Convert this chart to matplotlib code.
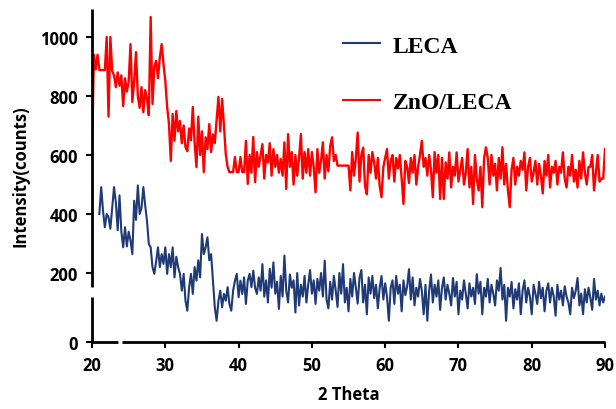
import numpy as np
import matplotlib
matplotlib.use("Agg")
import matplotlib.pyplot as plt

# scan grid: 0.25 deg steps in 2-theta
STEP = 0.25
ZNO_START = 20.0
LECA_START = 21.0

# ZnO/LECA intensity (counts), one row per degree from 20 to 90
zno_leca = [
    600, 940, 890, 940,   888, 888, 888, 888,   1000, 730, 1000, 885,
    870, 830, 880, 835,   870, 766, 860, 815,   850, 976, 780, 850,
    949, 800, 760, 830,   745, 820, 790, 735,   1068, 773, 900, 919,
    861, 930, 976, 908,   851, 763, 705, 580,   739, 648, 749, 680,
    715, 640, 700, 627,   613, 690, 650, 763,   640, 559, 730, 600,
    680, 542, 660, 620,   705, 610, 670, 640,   720, 797, 680, 790,
    700, 603, 559, 542,   542, 542, 593, 542,   542, 593, 542, 542,
    648, 502, 600, 540,   661, 508, 610, 560,   600, 637, 520, 600,
    575, 640, 530, 620,   560, 600, 540, 586,   530, 643, 485, 671,
    560, 610, 500, 600,   530, 590, 671, 520,   610, 540, 620, 530,
    610, 560, 474, 620,   540, 580, 643, 520,   600, 545, 630, 660,
    580, 600, 564, 564,   564, 564, 564, 564,   564, 480, 610, 530,
    590, 676, 510, 600,   625, 495, 467, 600,   540, 610, 575, 520,
    590, 495, 457, 560,   590, 620, 520, 580,   600, 510, 590, 555,
    600, 520, 434, 580,   560, 505, 590, 540,   600, 500, 560, 600,
    648, 560, 590, 530,   600, 550, 457, 610,   540, 600, 451, 590,
    451, 575, 520, 609,   490, 560, 530, 609,   510, 550, 590, 500,
    540, 620, 490, 560,   434, 600, 520, 480,   560, 423, 590, 626,
    590, 500, 600, 530,   570, 480, 590, 520,   626, 500, 570, 480,
    423, 550, 590, 500,   560, 530, 580, 550,   609, 480, 560, 590,
    510, 540, 580, 500,   570, 530, 470, 580,   530, 600, 490, 560,
    540, 580, 500, 560,   540, 609, 520, 490,   560, 530, 600, 510,
    550, 490, 580, 520,   609, 540, 500, 560,   560, 600, 480, 540,
    600, 510, 520, 520,
    620,
]

# LECA intensity (counts), one row per degree from 21 to 90
leca = [
    400, 491, 410, 355,   400, 390, 350, 420,   491, 440, 345, 463,
    340, 287, 355, 290,   340, 310, 264, 445,   380, 497, 400, 420,
    491, 430, 377, 298,   287, 220, 197, 240,   287, 220, 264, 231,
    287, 197, 264, 220,   287, 185, 255, 220,   197, 140, 197, 106,
    72, 152, 197, 129,    220, 174, 243, 185,   332, 264, 287, 321,
    243, 264, 174, 84,    38, 106, 140, 84,     129, 106, 152, 95,
    72, 140, 174, 197,    118, 174, 129, 185,   95, 174, 197, 152,
    208, 150, 129, 185,   140, 230, 120, 175,   100, 214, 150, 236,
    130, 170, 78, 190,    120, 259, 140, 100,   195, 150, 175, 66,
    200, 90, 160, 120,    190, 100, 160, 210,   130, 175, 95, 180,
    140, 200, 120, 242,   110, 80, 170, 110,   190, 140, 85, 200,
    130, 230, 100, 150,   70, 180, 120, 200,   150, 96, 185, 210,
    100, 160, 60, 185,    130, 190, 115, 160,   80, 150, 190, 110,
    165, 120, 38, 150,    175, 95, 190, 130,   160, 70, 175, 125,
    155, 213, 110, 185,   90, 150, 120, 180,   140, 60, 160, 38,
    140, 195, 100, 160,   120, 175, 75, 150,   185, 110, 160, 130,
    90, 183, 120, 170,    60, 140, 110, 175,   130, 80, 165, 120,
    150, 95, 196, 130,    170, 60, 150, 120,   180, 100, 160, 130,
    90, 175, 140, 217,    110, 160, 38, 150,   120, 170, 80, 145,
    110, 165, 60, 140,    175, 100, 150, 120,   60, 160, 130, 95,
    170, 115, 150, 70,    140, 165, 100, 150,   120, 55, 160, 110,
    140, 90, 155, 120,    100, 60, 150, 115,   140, 183, 90, 130,
    60, 145, 100, 150,    115, 75, 180, 110,   140, 90, 130, 100,
    120,
]

y_ticks = [200, 400, 600, 800, 1000]
x_ticks = [20, 30, 40, 50, 60, 70, 80, 90]
Y_BOTTOM = -34   # drawn position of the broken-axis "0"

plt.rcParams["font.family"] = ["Open Sans", "DejaVu Sans"]


def make_plot():
    fig = plt.figure(figsize=(6.16, 4.10), dpi=100)
    ax = fig.add_axes([0.1494, 0.1634, 0.8328, 0.8122])

    x_zno = ZNO_START + STEP * np.arange(len(zno_leca))
    x_leca = LECA_START + STEP * np.arange(len(leca))

    ax.plot(x_leca, leca, color="#1F3A75", lw=1.5, label="LECA")
    ax.plot(x_zno, zno_leca, color="#FF0000", lw=1.7, label="ZnO/LECA")

    ax.set_xlim(20, 90)
    ax.set_ylim(Y_BOTTOM, 1095)
    ax.set_xticks(x_ticks)
    ax.set_yticks([Y_BOTTOM] + y_ticks)
    ax.set_yticklabels(["0"] + [str(v) for v in y_ticks])

    ax.tick_params(axis="both", direction="out", length=4, width=1.5,
                   labelsize=12, pad=6)
    for lab in ax.get_xticklabels() + ax.get_yticklabels():
        lab.set_fontweight("bold")

    # spines drawn by hand, with the little breaks of the original
    for s in ax.spines.values():
        s.set_visible(False)
    kw = dict(transform=ax.transAxes, color="black", lw=2, clip_on=False,
              solid_capstyle="butt")
    ax.plot([0, 0], [0, 0.135], **kw)
    ax.plot([0, 0], [0.165, 1], **kw)
    ax.plot([0, 0.0507], [0, 0], **kw)
    ax.plot([0.0585, 1], [0, 0], **kw)

    ax.set_xlabel("2 Theta", fontsize=12, fontweight="bold", labelpad=8)
    ax.set_ylabel("Intensity(counts)", fontsize=12, fontweight="bold", labelpad=8)

    leg = ax.legend(loc="upper left", bbox_to_anchor=(343 / 616, 1 - 36 / 410),
                    bbox_transform=fig.transFigure, frameon=False,
                    prop=dict(family="Liberation Serif", weight="bold", size=17),
                    handlelength=1.55, handletextpad=0.55, labelspacing=1.5,
                    borderpad=0, borderaxespad=0)
    for h in leg.get_lines():
        h.set_linewidth(1.5)
    return fig, ax


def main():
    fig, _ = make_plot()
    fig.savefig("out.png", dpi=100)


if __name__ == "__main__":
    main()
